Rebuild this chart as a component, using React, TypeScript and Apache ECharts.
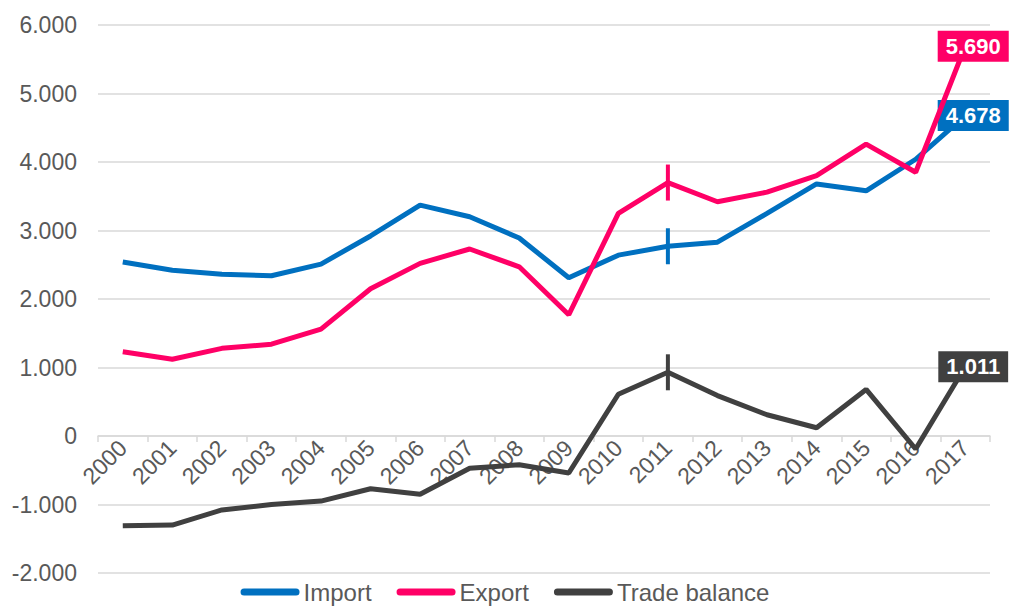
import React, { useEffect, useRef } from "react";
import * as echarts from "echarts";

const years = ["2000","2001","2002","2003","2004","2005","2006","2007","2008","2009","2010","2011","2012","2013","2014","2015","2016","2017"];
const importVals = [2540, 2420, 2360, 2340, 2510, 2920, 3370, 3200, 2890, 2310, 2640, 2770, 2830, 3250, 3680, 3580, 4040, 4678];
const exportVals = [1230, 1120, 1280, 1340, 1560, 2150, 2520, 2730, 2470, 1770, 3250, 3700, 3420, 3560, 3800, 4260, 3850, 5690];
const balanceVals = [-1310, -1300, -1080, -1000, -950, -770, -850, -470, -420, -540, 610, 930, 590, 310, 120, 680, -190, 1011];
const markIndex = 11;

const fmt = (v: number) => {
  const s = Math.abs(Math.round(v)).toString().replace(/\B(?=(\d{3})+(?!\d))/g, ".");
  return (v < 0 ? "-" : "") + s;
};

const FONT = "'Liberation Sans', Arial, sans-serif";
const LEGEND_ICON = "path://M3.5,0 H55.5 A3.5,3.5 0 0 1 55.5,7 H3.5 A3.5,3.5 0 0 1 3.5,0 Z";

function buildData(vals: number[], color: string) {
  return vals.map((v, i) => {
    if (i === markIndex) {
      return { value: v, symbol: "rect", symbolSize: [4, 36], itemStyle: { color } };
    }
    if (i === vals.length - 1) {
      return {
        value: v,
        symbol: "circle",
        symbolSize: 1,
        label: {
          show: true,
          position: "inside",
          offset: [8, 0],
          formatter: (p: any) => fmt(p.value),
          color: "#fff",
          fontWeight: "bold",
          fontSize: 22,
          lineHeight: 24,
          fontFamily: FONT,
          backgroundColor: color,
          padding: [4, 8, 3, 8],
        },
      };
    }
    return { value: v };
  });
}

export default function App() {
  const ref = useRef<HTMLDivElement>(null);
  useEffect(() => {
    if (!ref.current) return;
    const chart = echarts.init(ref.current, undefined, { renderer: "svg" });
    const mk = (name: string, vals: number[], color: string, z: number) => ({
      name,
      type: "line",
      data: buildData(vals, color),
      symbol: "none",
      showSymbol: true,
      lineStyle: { color, width: 5 },
      itemStyle: { color },
      z,
    });
    chart.setOption({
      animation: false,
      backgroundColor: "#fff",
      grid: { left: 98, right: 20, top: 25, bottom: 33 },
      legend: {
        top: 579,
        left: "center",
        padding: 0,
        icon: LEGEND_ICON,
        itemWidth: 59,
        itemHeight: 7,
        itemGap: 25,
        textStyle: { fontSize: 24, lineHeight: 26, color: "#595959", fontFamily: FONT, padding: [0, 0, 0, -1] },
        data: ["Import", "Export", "Trade balance"],
      },
      xAxis: {
        type: "category",
        data: years,
        boundaryGap: true,
        offset: -137,
        axisLine: { onZero: false, lineStyle: { color: "#d9d9d9", width: 1.5 } },
        axisTick: { show: true, length: 6, lineStyle: { color: "#d9d9d9", width: 1.5 } },
        axisLabel: { rotate: 45, fontSize: 23, color: "#595959", fontFamily: FONT, margin: 8, interval: 0 },
        splitLine: { show: false },
      },
      yAxis: {
        type: "value",
        min: -2000,
        max: 6000,
        interval: 1000,
        axisLine: { show: false },
        axisTick: { show: false },
        axisLabel: { fontSize: 23, color: "#595959", fontFamily: FONT, margin: 21, formatter: (v: number) => fmt(v) },
        splitLine: { lineStyle: { color: "#d9d9d9", width: 1.5 } },
      },
      series: [
        mk("Import", importVals, "#0070C0", 3),
        mk("Export", exportVals, "#FF0066", 4),
        mk("Trade balance", balanceVals, "#404040", 5),
      ],
    });
    return () => chart.dispose();
  }, []);
  return <div ref={ref} style={{ width: 1010, height: 606, position: "absolute", left: 0, top: 0 }} />;
}
